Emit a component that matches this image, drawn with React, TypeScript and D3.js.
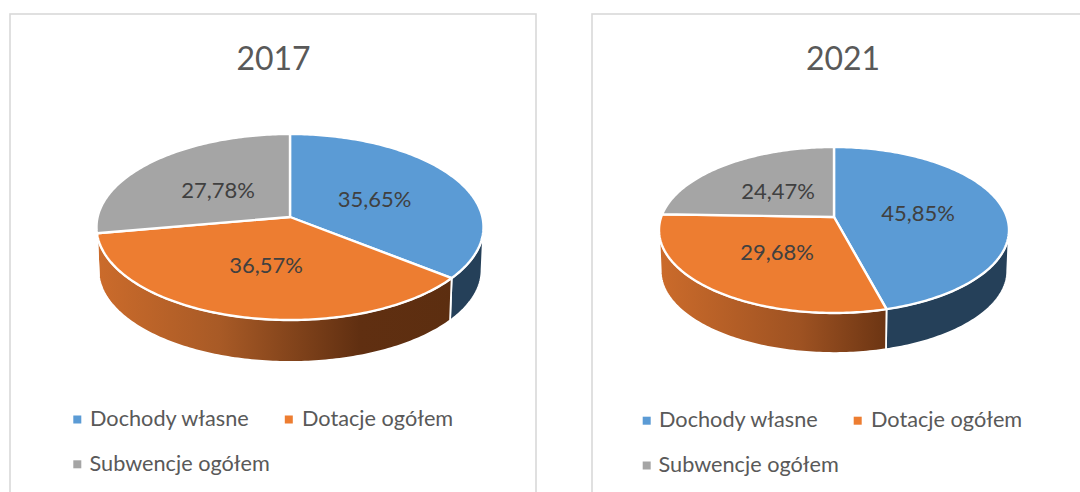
import React from "react";
import * as d3 from "d3";

const categories = ["Dochody własne", "Dotacje ogółem", "Subwencje ogółem"];
const years = ["2017", "2021"];
const values2017 = [35.65, 36.57, 27.78];
const values2021 = [45.85, 29.68, 24.47];
const topColors = ["#5B9BD5", "#ED7D31", "#A5A5A5"];
const wallColors = ["#254059", "#orange", "#636363"];

const FONT = "Lato, 'Open Sans', sans-serif";
const W = 1080;
const H = 492;

const charts = [
  {
    id: "a", title: years[0], values: values2017, titleX: 273.5,
    cx: 290, rx: 193.5, y0: 217, yTop: 134, yBottom: 320, depth: 43,
    frame: { x: 10, w: 526 },
    labels: [[374.5, 207], [266, 273], [218, 198]],
    legend: [[77.3, 90, 419.5], [288.8, 302, 419.5], [77.3, 89.5, 464.3]],
    grad: [[98, "#CB6B2B"], [220, "#A85A26"], [360, "#602F11"], [455, "#5C2E10"]],
  },
  {
    id: "b", title: years[1], values: values2021, titleX: 843,
    cx: 834, rx: 175, y0: 217, yTop: 147, yBottom: 313, depth: 41,
    frame: { x: 592, w: 520 },
    labels: [[918, 221], [777, 260], [778, 199]],
    legend: [[646.7, 659, 420.7], [857.7, 871, 420.7], [646.7, 658.5, 465.5]],
    grad: [[660, "#CB6B2B"], [800, "#9E5222"], [886, "#6C3513"]],
  },
];

function Pie3D({ c }: { c: (typeof charts)[number] }) {
  const up = c.y0 - c.yTop;
  const down = c.yBottom - c.y0;
  const ratio = down / up;
  const k = (ratio - 1) / (ratio + 1);
  const B = down * (1 - k);
  const A = c.rx * Math.sqrt(1 - k * k);

  // projective map of the circular pie face onto the screen
  const project = (theta: number, r = 1, scale = 1, dy = 0): [number, number] => {
    const u = r * Math.sin(theta);
    const v = -r * Math.cos(theta);
    const w = 1 - k * v;
    return [c.cx + (scale * A * u) / w, c.y0 + (scale * B * v) / w + dy];
  };

  const arcs = d3.pie<number>().sort(null)(c.values);
  const color = d3.scaleOrdinal<number, string>().domain([0, 1, 2]).range(topColors);
  const line = d3.line();
  const samples = (a: number, b: number) => {
    const n = Math.max(2, Math.ceil(Math.abs(b - a) * 60));
    return d3.range(n + 1).map((i) => a + ((b - a) * i) / n);
  };
  const silhouette = Math.acos(-k);
  const gradId = `wall-${c.id}`;

  return (
    <g>
      <rect x={c.frame.x} y={14} width={c.frame.w} height={H + 20} fill="#fff" stroke="#D9D9D9" strokeWidth={1.6} />
      <text x={c.titleX} y={70} textAnchor="middle" fontFamily={FONT} fontSize={32} fill="#595959">{c.title}</text>

      <defs>
        <linearGradient id={gradId} gradientUnits="userSpaceOnUse" x1={c.grad[0][0] as number} x2={c.grad[c.grad.length - 1][0] as number} y1={0} y2={0}>
          {c.grad.map(([x, col], i) => {
            const x0 = c.grad[0][0] as number;
            const x1 = c.grad[c.grad.length - 1][0] as number;
            return <stop key={i} offset={((x as number) - x0) / (x1 - x0)} stopColor={col as string} />;
          })}
        </linearGradient>
      </defs>

      {arcs.map((a, i) => {
        const s = Math.max(a.startAngle, silhouette);
        const e = Math.min(a.endAngle, 2 * Math.PI - silhouette);
        if (e <= s) return null;
        const ts = samples(s, e);
        const pts = [
          ...ts.map((t) => project(t)),
          ...ts.slice().reverse().map((t) => project(t, 1, 0.99, c.depth)),
        ];
        const fill = i === 1 ? `url(#${gradId})` : wallColors[i];
        return <path key={i} d={line(pts) + "Z"} fill={fill} stroke="#fff" strokeWidth={1.8} strokeLinejoin="round" />;
      })}

      {arcs.map((a, i) => {
        const pts = [[c.cx, c.y0] as [number, number], ...samples(a.startAngle, a.endAngle).map((t) => project(t))];
        return <path key={i} d={line(pts) + "Z"} fill={color(i)} stroke="#fff" strokeWidth={2.4} strokeLinejoin="round" />;
      })}

      {c.values.map((v, i) => (
        <text key={i} x={c.labels[i][0]} y={c.labels[i][1]} textAnchor="middle" fontFamily={FONT} fontSize={22} fill="#404040">
          {v.toFixed(2).replace(".", ",")}%
        </text>
      ))}

      {categories.map((name, i) => (
        <g key={name}>
          <rect x={c.legend[i][0] - 4} y={c.legend[i][2] - 4} width={8} height={8} fill={color(i)} />
          <text x={c.legend[i][1]} y={c.legend[i][2] + 6.7} fontFamily={FONT} fontSize={21.7} fill="#595959">{name}</text>
        </g>
      ))}
    </g>
  );
}

export default function App() {
  return (
    <svg width={W} height={H} viewBox={`0 0 ${W} ${H}`} style={{ position: "absolute", left: 0, top: 0, display: "block", background: "#fff" }}>
      {charts.map((c) => <Pie3D key={c.id} c={c} />)}
    </svg>
  );
}
